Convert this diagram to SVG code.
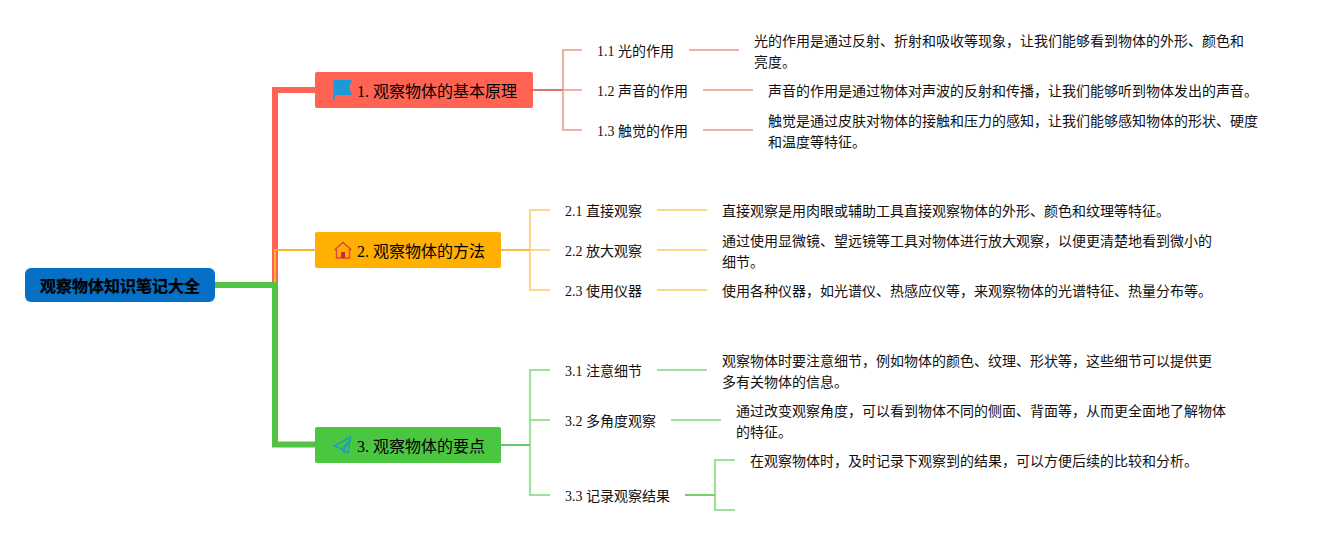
<svg xmlns="http://www.w3.org/2000/svg" width="1328" height="535" viewBox="0 0 1328 535">
<style>
text{font-family:"Liberation Serif","Noto Sans CJK SC",serif;fill:#000}
.t{font-size:14px;fill:#111}
.b{font-size:16px}
.r{font-size:16px;font-weight:700;font-family:"Liberation Sans","Noto Sans CJK SC",sans-serif;stroke:#000;stroke-width:.25}
.c path{fill:none;stroke-linejoin:miter}
.rl{stroke:#f2b0a3;stroke-width:2.200}
.yl{stroke:#fad98c;stroke-width:2.200}
.gl{stroke:#9fe09a;stroke-width:2.200}
</style>
<rect width="1328" height="535" fill="#fff"/>
<g id="connectors" class="c">
<path d="M275 285V90H316" stroke="#ff6353" stroke-width="6"/>
<path d="M275 285V250H316" stroke="#f9b62c" stroke-width="2"/>
<path d="M215 285H275V444.500H316" stroke="#52c244" stroke-width="6"/>
<path class="rl" d="M582 90H563V50H582M582 90H563V130H582" stroke-linejoin="round"/>
<path d="M533 90H563" stroke="#d9776c" stroke-width="2"/>
<path class="rl" d="M689 50H739M703 90H753M703 130H753"/>
<path class="yl" d="M550 210H530V290H550M550 250H530"/>
<path d="M501 250H530" stroke="#f5c04a" stroke-width="2"/>
<path class="yl" d="M657 210H707M657 250H707M657 290H707"/>
<path class="gl" d="M550 370H530V495H550M550 420H530"/>
<path d="M501 445H530" stroke="#66c860" stroke-width="2"/>
<path class="gl" d="M657 370H707M671 420H721"/>
<path class="gl" d="M735 460H715V510H735"/>
<path d="M685 495H715" stroke="#73d06e" stroke-width="2"/>
</g>
<g id="root"><rect x="25" y="268" width="190" height="34" rx="6" fill="#0570c5"/><text class="r" x="120" y="291.500" text-anchor="middle">观察物体知识笔记大全</text></g>
<g id="b1"><rect x="315" y="72" width="218" height="36" rx="2" fill="#ff6353"/>
<path d="M333.500 80H352L349 87L352 95H335V100H333.500Z" fill="#1b9ad6"/>
<text class="b" x="357" y="97">1. 观察物体的基本原理</text></g>
<g id="b2"><rect x="315" y="232" width="186" height="36" rx="2" fill="#ffb000"/>
<path d="M334.500 250L343 242.500L351.500 250M336.500 249V258H349.500V249" fill="none" stroke="#e5453a" stroke-width="1.500"/><rect x="341" y="252" width="4" height="6" fill="#d8232a"/>
<text class="b" x="357" y="257">2. 观察物体的方法</text></g>
<g id="b3"><rect x="315" y="427" width="186" height="36" rx="2" fill="#4bc641"/>
<path d="M350.500 437L334.500 446L342 449L349 441L344 450.500L348 453ZM342 449L344 453L344 450.500" fill="none" stroke="#1f9fb8" stroke-width="1.500"/>
<text class="b" x="357" y="452">3. 观察物体的要点</text></g>
<g id="n11"><text class="t" x="597" y="56">1.1 光的作用</text></g>
<g id="n12"><text class="t" x="597" y="96">1.2 声音的作用</text></g>
<g id="n13"><text class="t" x="597" y="136">1.3 触觉的作用</text></g>
<g id="d11"><text class="t" x="754" y="46">光的作用是通过反射、折射和吸收等现象，让我们能够看到物体的外形、颜色和</text><text class="t" x="754" y="67">亮度。</text></g>
<g id="d12"><text class="t" x="768" y="96">声音的作用是通过物体对声波的反射和传播，让我们能够听到物体发出的声音。</text></g>
<g id="d13"><text class="t" x="768" y="126">触觉是通过皮肤对物体的接触和压力的感知，让我们能够感知物体的形状、硬度</text><text class="t" x="768" y="147">和温度等特征。</text></g>
<g id="n21"><text class="t" x="565" y="216">2.1 直接观察</text></g>
<g id="n22"><text class="t" x="565" y="256">2.2 放大观察</text></g>
<g id="n23"><text class="t" x="565" y="296">2.3 使用仪器</text></g>
<g id="d21"><text class="t" x="722" y="216">直接观察是用肉眼或辅助工具直接观察物体的外形、颜色和纹理等特征。</text></g>
<g id="d22"><text class="t" x="722" y="246">通过使用显微镜、望远镜等工具对物体进行放大观察，以便更清楚地看到微小的</text><text class="t" x="722" y="267">细节。</text></g>
<g id="d23"><text class="t" x="722" y="296">使用各种仪器，如光谱仪、热感应仪等，来观察物体的光谱特征、热量分布等。</text></g>
<g id="n31"><text class="t" x="565" y="376">3.1 注意细节</text></g>
<g id="n32"><text class="t" x="565" y="426">3.2 多角度观察</text></g>
<g id="n33"><text class="t" x="565" y="501">3.3 记录观察结果</text></g>
<g id="d31"><text class="t" x="722" y="366">观察物体时要注意细节，例如物体的颜色、纹理、形状等，这些细节可以提供更</text><text class="t" x="722" y="387">多有关物体的信息。</text></g>
<g id="d32"><text class="t" x="736" y="416">通过改变观察角度，可以看到物体不同的侧面、背面等，从而更全面地了解物体</text><text class="t" x="736" y="437">的特征。</text></g>
<g id="d33"><text class="t" x="750" y="466">在观察物体时，及时记录下观察到的结果，可以方便后续的比较和分析。</text></g>
</svg>
